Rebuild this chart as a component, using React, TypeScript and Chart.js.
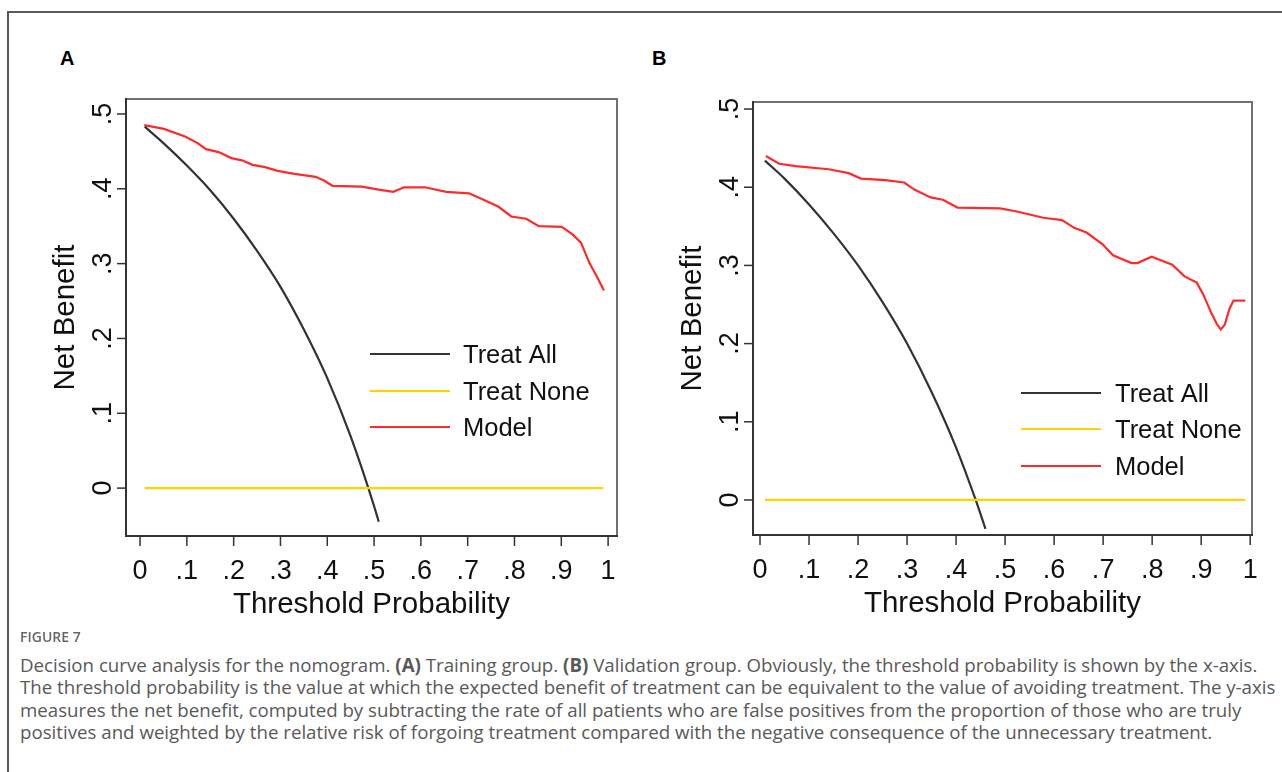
import React, { useEffect, useRef } from "react";
import { Chart, registerables } from "chart.js";

Chart.register(...registerables);

// ---- Axis ticks ----
const xTickValues = [0, 0.1, 0.2, 0.3, 0.4, 0.5, 0.6, 0.7, 0.8, 0.9, 1];
const xTickLabels = ["0", ".1", ".2", ".3", ".4", ".5", ".6", ".7", ".8", ".9", "1"];
const yTickValues = [0, 0.1, 0.2, 0.3, 0.4, 0.5];
const yTickLabels = ["0", ".1", ".2", ".3", ".4", ".5"];

const seriesNames = ["Treat All", "Treat None", "Model"];
const seriesColors = ["#333333", "#FFD200", "#FF2A2A"];

// ---- Panel A: training group ----
const allThresholdA = [0.01, 0.05, 0.1, 0.15, 0.2, 0.25, 0.3, 0.35, 0.4, 0.45, 0.5, 0.51];
const allBenefitA = [0.483, 0.461, 0.431, 0.398, 0.36, 0.317, 0.269, 0.212, 0.147, 0.069, -0.024, -0.045];
const noneThresholdA = [0.01, 0.99];
const noneBenefitA = [0, 0];
const modelThresholdA = [
  0.009, 0.051, 0.096, 0.123, 0.141, 0.168, 0.195, 0.218, 0.24, 0.267, 0.294, 0.33, 0.375,
  0.393, 0.411, 0.474, 0.51, 0.541, 0.564, 0.609, 0.654, 0.703, 0.735, 0.766, 0.793, 0.825,
  0.852, 0.901, 0.924, 0.942, 0.96, 0.979, 0.991,
];
const modelBenefitA = [
  0.485, 0.48, 0.47, 0.461, 0.453, 0.449, 0.441, 0.438, 0.432, 0.429, 0.424, 0.42, 0.416,
  0.411, 0.404, 0.403, 0.399, 0.396, 0.402, 0.402, 0.396, 0.394, 0.385, 0.376, 0.363, 0.36,
  0.35, 0.349, 0.339, 0.328, 0.301, 0.279, 0.264,
];

// ---- Panel B: validation group ----
const allThresholdB = [0.01, 0.05, 0.1, 0.15, 0.2, 0.25, 0.3, 0.35, 0.4, 0.44, 0.46];
const allBenefitB = [0.434, 0.411, 0.378, 0.341, 0.3, 0.253, 0.2, 0.138, 0.067, 0.0, -0.037];
const noneThresholdB = [0.01, 0.99];
const noneBenefitB = [0, 0];
const modelThresholdB = [
  0.012, 0.039, 0.073, 0.14, 0.181, 0.206, 0.256, 0.294, 0.315, 0.348, 0.373, 0.403, 0.49,
  0.524, 0.578, 0.616, 0.641, 0.666, 0.699, 0.72, 0.758, 0.77, 0.799, 0.841, 0.866, 0.891,
  0.905, 0.92, 0.932, 0.94, 0.948, 0.958, 0.966, 0.99,
];
const modelBenefitB = [
  0.44, 0.43, 0.427, 0.423, 0.418, 0.411, 0.409, 0.406, 0.397, 0.387, 0.384, 0.374, 0.373,
  0.369, 0.361, 0.358, 0.348, 0.342, 0.327, 0.313, 0.303, 0.303, 0.311, 0.301, 0.286, 0.278,
  0.262, 0.24, 0.225, 0.218, 0.224, 0.245, 0.255, 0.255,
];

const zip = (xs: number[], ys: number[]) => xs.map((x, i) => ({ x, y: ys[i] }));

type PanelSpec = {
  letter: string;
  allX: number[];
  allY: number[];
  noneX: number[];
  noneY: number[];
  modelX: number[];
  modelY: number[];
  xMin: number;
  xMax: number;
  yMin: number;
  yMax: number;
  canvasLeft: number;
  canvasWidth: number;
  padding: { left: number; top: number; right: number; bottom: number };
  legend: { lineStart: number; lineEnd: number; textX: number; rows: number[] };
};

const FONT = "'Liberation Sans', Arial, sans-serif";

// Draws the plot frame, tick marks, tick labels, axis titles and legend
const stataFrame = {
  id: "stataFrame",
  afterDraw(chart: any, _args: any, opts: any) {
    const { ctx, chartArea: a, scales } = chart;
    const xs = scales.x;
    const ys = scales.y;
    ctx.save();

    // plot region outline
    ctx.lineWidth = 2;
    ctx.strokeStyle = "#707070";
    ctx.beginPath();
    ctx.moveTo(a.left, a.top);
    ctx.lineTo(a.right, a.top);
    ctx.lineTo(a.right, a.bottom);
    ctx.stroke();
    ctx.strokeStyle = "#333333";
    ctx.beginPath();
    ctx.moveTo(a.left, a.top - 1);
    ctx.lineTo(a.left, a.bottom);
    ctx.lineTo(a.right + 1, a.bottom);
    ctx.stroke();

    ctx.fillStyle = "#111111";
    ctx.strokeStyle = "#333333";
    ctx.lineWidth = 1.5;

    // x ticks
    ctx.font = `27px ${FONT}`;
    ctx.textAlign = "center";
    ctx.textBaseline = "alphabetic";
    xTickValues.forEach((v, i) => {
      const px = xs.getPixelForValue(v);
      ctx.beginPath();
      ctx.moveTo(px, a.bottom);
      ctx.lineTo(px, a.bottom + 10);
      ctx.stroke();
      ctx.fillText(xTickLabels[i], px, a.bottom + 43);
    });

    // y ticks (labels rotated)
    yTickValues.forEach((v, i) => {
      const py = ys.getPixelForValue(v);
      ctx.beginPath();
      ctx.moveTo(a.left - 9, py);
      ctx.lineTo(a.left, py);
      ctx.stroke();
      ctx.save();
      ctx.translate(a.left - 15, py);
      ctx.rotate(-Math.PI / 2);
      ctx.fillText(yTickLabels[i], 0, 0);
      ctx.restore();
    });

    // axis titles
    ctx.font = `29.5px ${FONT}`;
    ctx.fillText("Threshold Probability", (a.left + a.right) / 2, a.bottom + 77);
    ctx.save();
    ctx.translate(a.left - 52, (a.top + a.bottom) / 2);
    ctx.rotate(-Math.PI / 2);
    ctx.fillText("Net Benefit", 0, 0);
    ctx.restore();

    // legend
    const lg = opts.legend;
    ctx.font = `25.5px ${FONT}`;
    ctx.textAlign = "left";
    seriesNames.forEach((name, i) => {
      const y = a.top + lg.rows[i];
      ctx.strokeStyle = seriesColors[i];
      ctx.lineWidth = 2.2;
      ctx.beginPath();
      ctx.moveTo(a.left + lg.lineStart, y);
      ctx.lineTo(a.left + lg.lineEnd, y);
      ctx.stroke();
      ctx.fillStyle = "#111111";
      ctx.fillText(name, a.left + lg.textX, y + 9);
    });

    ctx.restore();
  },
};

const panels: PanelSpec[] = [
  {
    letter: "A",
    allX: allThresholdA,
    allY: allBenefitA,
    noneX: noneThresholdA,
    noneY: noneBenefitA,
    modelX: modelThresholdA,
    modelY: modelBenefitA,
    xMin: -0.03,
    xMax: 1.019,
    yMin: -0.064,
    yMax: 0.52,
    canvasLeft: 20,
    canvasWidth: 620,
    padding: { left: 106, top: 79, right: 23, bottom: 104 },
    legend: { lineStart: 244, lineEnd: 324, textX: 337, rows: [255, 292, 328] },
  },
  {
    letter: "B",
    allX: allThresholdB,
    allY: allBenefitB,
    noneX: noneThresholdB,
    noneY: noneBenefitB,
    modelX: modelThresholdB,
    modelY: modelBenefitB,
    xMin: -0.0143,
    xMax: 1.0037,
    yMin: -0.0448,
    yMax: 0.509,
    canvasLeft: 641,
    canvasWidth: 641,
    padding: { left: 112, top: 82, right: 30, bottom: 105 },
    legend: { lineStart: 268, lineEnd: 348, textX: 362, rows: [291, 327, 364] },
  },
];

function Panel({ spec }: { spec: PanelSpec }) {
  const ref = useRef<HTMLCanvasElement>(null);
  useEffect(() => {
    const chart = new Chart(ref.current as HTMLCanvasElement, {
      type: "scatter",
      data: {
        datasets: [
          {
            label: seriesNames[1],
            data: zip(spec.noneX, spec.noneY),
            borderColor: seriesColors[1],
            borderWidth: 2.2,
            showLine: true,
            pointRadius: 0,
          },
          {
            label: seriesNames[0],
            data: zip(spec.allX, spec.allY),
            borderColor: seriesColors[0],
            borderWidth: 2.2,
            showLine: true,
            pointRadius: 0,
            cubicInterpolationMode: "monotone",
          },
          {
            label: seriesNames[2],
            data: zip(spec.modelX, spec.modelY),
            borderColor: seriesColors[2],
            borderWidth: 2.2,
            showLine: true,
            pointRadius: 0,
            tension: 0,
          },
        ],
      },
      options: {
        animation: false,
        responsive: false,
        devicePixelRatio: 1,
        events: [],
        layout: { padding: spec.padding },
        scales: {
          x: { type: "linear", min: spec.xMin, max: spec.xMax, display: false },
          y: { type: "linear", min: spec.yMin, max: spec.yMax, display: false },
        },
        plugins: {
          legend: { display: false },
          tooltip: { enabled: false },
          stataFrame: { legend: spec.legend },
        } as any,
      },
      plugins: [stataFrame],
    });
    return () => chart.destroy();
  }, [spec]);
  return (
    <canvas
      ref={ref}
      width={spec.canvasWidth}
      height={620}
      style={{ position: "absolute", left: spec.canvasLeft, top: 20, width: spec.canvasWidth, height: 620 }}
    />
  );
}

export default function App() {
  const letterStyle: React.CSSProperties = {
    position: "absolute",
    top: 47,
    fontFamily: FONT,
    fontWeight: 700,
    fontSize: 20,
    color: "#000",
    lineHeight: "22px",
  };
  const captionFont = "'Open Sans', 'Noto Sans', sans-serif";
  return (
    <div
      style={{
        position: "absolute",
        left: 0,
        top: 0,
        width: 1282,
        height: 772,
        background: "#fff",
        overflow: "hidden",
      }}
    >
      <div
        style={{
          position: "absolute",
          left: 7,
          top: 11,
          width: 1300,
          height: 800,
          borderTop: "2px solid #5a5a5a",
          borderLeft: "2px solid #5a5a5a",
        }}
      />
      <div style={{ ...letterStyle, left: 60 }}>A</div>
      <div style={{ ...letterStyle, left: 652 }}>B</div>
      {panels.map((p) => (
        <Panel key={p.letter} spec={p} />
      ))}
      <div
        style={{
          position: "absolute",
          left: 20,
          top: 627,
          fontFamily: captionFont,
          fontWeight: 600,
          fontSize: 14,
          color: "#666",
          lineHeight: "20px",
        }}
      >
        FIGURE 7
      </div>
      <div
        style={{
          position: "absolute",
          left: 20,
          top: 654,
          fontFamily: captionFont,
          fontSize: 18.7,
          color: "#595959",
          lineHeight: "22.3px",
          whiteSpace: "nowrap",
        }}
      >
        Decision curve analysis for the nomogram. <b>(A)</b> Training group. <b>(B)</b> Validation group. Obviously, the
        threshold probability is shown by the x-axis.
        <br />
        The threshold probability is the value at which the expected benefit of treatment can be equivalent to the value
        of avoiding treatment. The y-axis
        <br />
        measures the net benefit, computed by subtracting the rate of all patients who are false positives from the
        proportion of those who are truly
        <br />
        positives and weighted by the relative risk of forgoing treatment compared with the negative consequence of the
        unnecessary treatment.
      </div>
    </div>
  );
}
